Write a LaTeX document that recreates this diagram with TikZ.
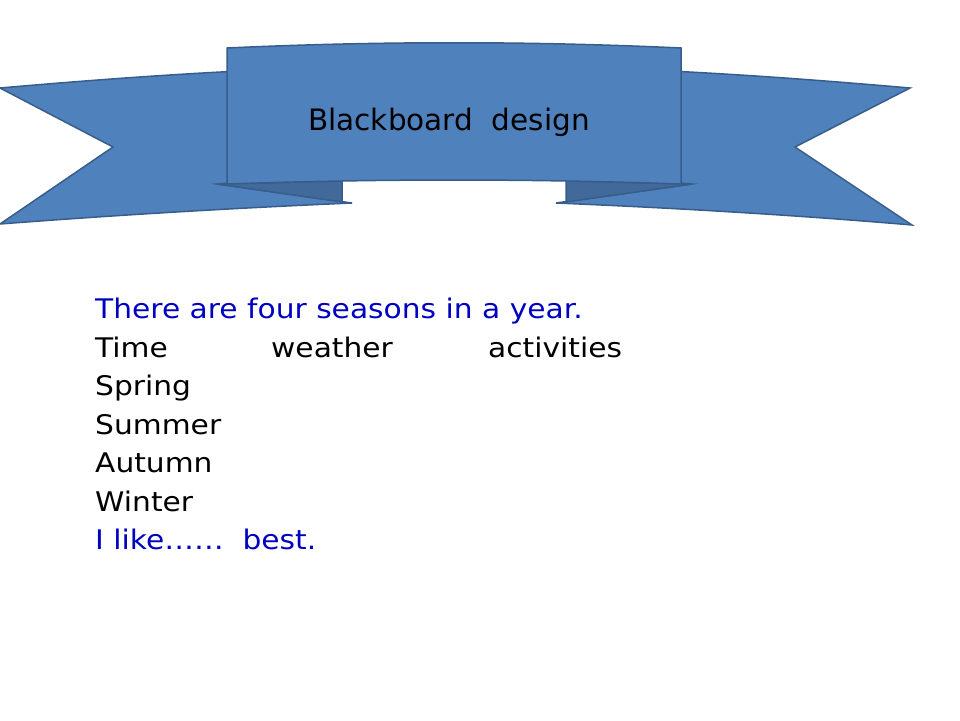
\documentclass[tikz,border=0pt]{standalone}
\usepackage{fontspec}
\setmainfont[FakeStretch=1.1]{DejaVu Sans}
\newfontfamily\titlefont{DejaVu Sans}
\definecolor{ribbonblue}{HTML}{4F81BD}
\definecolor{ribbonline}{HTML}{385D8A}
\definecolor{folddark}{HTML}{41699A}
\definecolor{textblue}{HTML}{0000C0}
\tikzset{
  ribbon/.style={fill=ribbonblue,draw=ribbonline,line width=1.5pt,line join=miter},
  fold/.style={fill=folddark,draw=ribbonline,line width=1.5pt},
  line/.style={anchor=base west,inner sep=0pt,font=\fontsize{27}{32}\selectfont},
}
\begin{document}
\begin{tikzpicture}[x=1pt,y=-1pt]
\useasboundingbox (0,0) rectangle (960,720);
% tails
\draw[ribbon] (0,88) .. controls (80,81) and (160,75) .. (240,71) -- (240,182) -- (217,184) -- (352,203)
  .. controls (235,208) and (117,215) .. (0,224) -- (113,147) -- cycle;
\draw[ribbon] (910,88) .. controls (830,81) and (750,75) .. (670,71) -- (670,182) -- (692,184) -- (556,203)
  .. controls (675,208) and (795,215) .. (912,225) -- (795,147) -- cycle;
% folds
\draw[fold] (217,184) -- (342,181) -- (342,202) -- cycle;
\draw[fold] (692,184) -- (566,181) -- (566,202) -- cycle;
% main panel
\draw[ribbon] (227,48) .. controls (378,41) and (530,41) .. (681,48) -- (681,184)
  .. controls (530,178.7) and (378,178.7) .. (227,184) -- cycle;
\node[anchor=base,inner sep=0pt,font=\titlefont\fontsize{29.5}{35}\selectfont] (title) at (449,130) {Blackboard\ \ design};
% body
\node[line,textblue] (intro) at (95,318.5) {There are four seasons in a year.};
\node[line] (time) at (95,357) {Time};
\node[line] (weather) at (271,357) {weather};
\node[line] (activities) at (488,357) {activities};
\node[line] (spring) at (95,395.5) {Spring};
\node[line] (summer) at (95,434) {Summer};
\node[line] (autumn) at (95,472.5) {Autumn};
\node[line] (winter) at (95,511) {Winter};
\node[line,textblue] (best) at (95,549.5) {I like……\ \ best.};
\end{tikzpicture}
\end{document}
